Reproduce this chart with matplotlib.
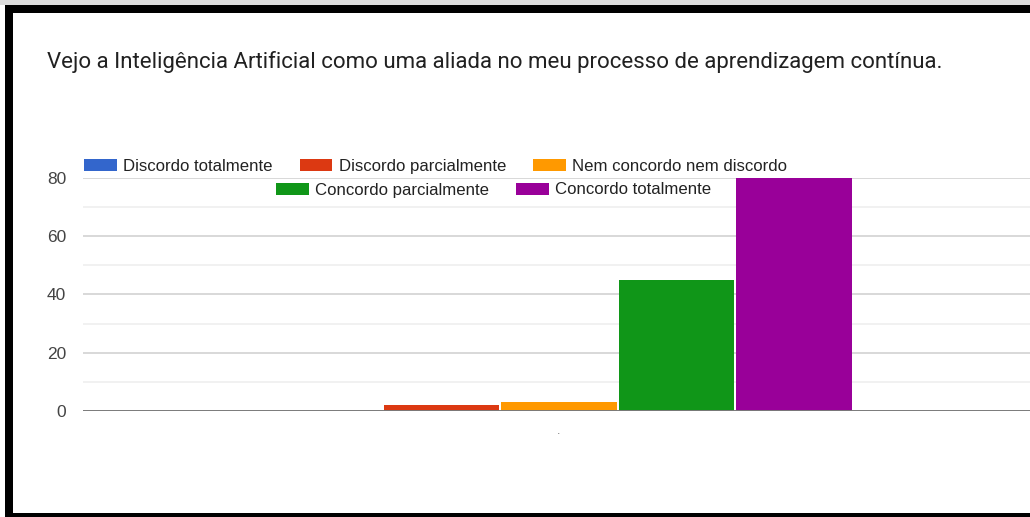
import matplotlib
matplotlib.use("Agg")
import matplotlib.pyplot as plt
from matplotlib.patches import Rectangle
import numpy as np

title = "Vejo a Inteligência Artificial como uma aliada no meu processo de aprendizagem contínua."
series = ["Discordo totalmente", "Discordo parcialmente", "Nem concordo nem discordo",
          "Concordo parcialmente", "Concordo totalmente"]
values = [0, 2, 3, 45, 80]
colors = ["#3366cc", "#dc3912", "#ff9900", "#109618", "#990099"]
category_labels = ["."]
y_ticks = [0, 20, 40, 60, 80]
y_minor = [10, 30, 50, 70]

W, H = 1030, 517
fig = plt.figure(figsize=(W / 100, H / 100), dpi=100)
fig.patch.set_facecolor("white")

def fx(px):
    return px / W

def fy(py):
    return 1 - py / H

# plot area
left, right, top, bottom = 83, 1035, 178, 411
ax = fig.add_axes([fx(left), fy(bottom), fx(right - left), (bottom - top) / H])
ax.set_xlim(-0.5, 0.5)
ax.set_ylim(0, 80)
ax.set_facecolor("white")
for s in ax.spines.values():
    s.set_visible(False)

n = len(series)
bw = 117.4 / (right - left)
handles = []
for i, (name, v, c) in enumerate(zip(series, values, colors)):
    xpos = (i - (n - 1) / 2) * bw
    b = ax.bar(xpos, v, width=bw * 0.985, color=c, linewidth=0, label=name, zorder=3)
    handles.append(b)

for yv in y_minor:
    ax.axhline(yv, color="#efefef", lw=1.2, zorder=1)
for yv in y_ticks[1:]:
    ax.axhline(yv, color="#d6d6d6", lw=1.3, zorder=1)
ax.axhline(0, color="#7a7a7a", lw=1.4, zorder=4)

ax.set_yticks(y_ticks)
ax.set_yticklabels([str(t) for t in y_ticks], fontfamily="Liberation Sans", fontsize=12.5, color="#444444")
ax.tick_params(axis="y", length=0, pad=12)
ax.set_xticks([0])
ax.set_xticklabels(category_labels, fontfamily="Liberation Sans", fontsize=9, color="#777777")
ax.tick_params(axis="x", length=0, pad=10)

# title
fig.text(fx(47), fy(62), title, fontfamily="Roboto", fontsize=16, color="#212121",
         ha="left", va="center")

# legends
leg_kw = dict(prop={"family": "Liberation Sans", "size": 12.1}, frameon=False,
              handlelength=1.95, handleheight=0.72, handletextpad=0.38,
              columnspacing=1.6, borderpad=0, borderaxespad=0, labelcolor="#222222")
leg1 = fig.legend(handles[:3], series[:3], loc="center left",
                  bbox_to_anchor=(fx(84), fy(166)), ncol=3, **leg_kw)
leg2 = fig.legend(handles[3:], series[3:], loc="center left",
                  bbox_to_anchor=(fx(276), fy(190)), ncol=2, **leg_kw)

# frame
fig.add_artist(Rectangle((0, fy(5)), 1, 5 / H, transform=fig.transFigure, color="#dddddd", lw=0))
fig.add_artist(Rectangle((fx(5), fy(13)), 1, 8 / H, transform=fig.transFigure, color="black", lw=0))
fig.add_artist(Rectangle((fx(5), 0), 8 / W, fy(5), transform=fig.transFigure, color="black", lw=0))
fig.add_artist(Rectangle((fx(5), 0), 1, 4 / H, transform=fig.transFigure, color="black", lw=0))

fig.savefig("out.png", dpi=100)
